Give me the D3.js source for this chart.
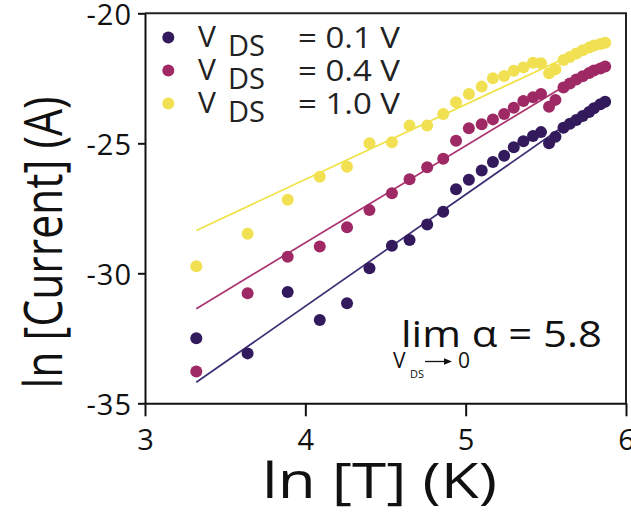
<!DOCTYPE html>
<html lang="en">
<head>
<meta charset="UTF-8" />
<title>ln Current vs ln T</title>
<style>
  html, body { margin: 0; padding: 0; background: #fff; }
  svg { display: block; font-family: "Open Sans", sans-serif; }
</style>
<script src="https://cdn.jsdelivr.net/npm/d3@7"></script>
</head>
<body>
<svg id="chart" width="631" height="513"></svg>
<script>
// ln T (K) for every measured temperature
const lnT = [3.32, 3.64, 3.89, 4.09, 4.26, 4.40, 4.54, 4.65, 4.76, 4.86,
             4.94, 5.02, 5.10, 5.17, 5.24, 5.30, 5.36, 5.42, 5.47, 5.52,
             5.56, 5.61, 5.65, 5.69, 5.73, 5.77, 5.80, 5.84, 5.87];

// ln I (A) per drain-source bias
const current01 = [-32.5, -33.08, -30.72, -31.8, -31.15, -29.81, -28.94, -28.72, -28.12, -27.63,
                   -26.77, -26.4, -26.05, -25.72, -25.48, -25.15, -24.92, -24.72, -24.57, -25.0,
                   -24.75, -24.4, -24.25, -24.1, -23.95, -23.8, -23.65, -23.5, -23.4];
const current04 = [-33.78, -30.77, -29.36, -28.97, -28.23, -27.57, -26.92, -26.38, -25.92, -25.59,
                   -24.9, -24.42, -24.27, -24.08, -23.87, -23.63, -23.37, -23.23, -23.1, -23.59,
                   -23.33, -22.85, -22.7, -22.55, -22.42, -22.3, -22.2, -22.12, -22.05];
const current10 = [-29.73, -28.48, -27.17, -26.29, -25.9, -25.0, -24.96, -24.32, -24.32, -23.87,
                   -23.42, -23.1, -22.82, -22.5, -22.41, -22.21, -22.08, -21.9, -21.92, -22.31,
                   -22.15, -21.8, -21.68, -21.55, -21.42, -21.32, -21.24, -21.18, -21.13];

// power-law fit lines, endpoints in (ln T, ln I)
const fitX = [3.32, 5.87];
const fit01 = [-34.19, -23.23];
const fit04 = [-31.36, -21.85];
const fit10 = [-28.35, -21.0];

const biasLabels = ["0.1 V", "0.4 V", "1.0 V"];
const xTicks = [3, 4, 5, 6];
const yTicks = [-35, -30, -25, -20];

const series = [
  {label: biasLabels[0], values: current01, fit: fit01, dot: "#321a5c", line: "#3d2d74"},
  {label: biasLabels[1], values: current04, fit: fit04, dot: "#9e2964", line: "#ab3470"},
  {label: biasLabels[2], values: current10, fit: fit10, dot: "#f1e152", line: "#f0e246"}
];

const svg = d3.select("#chart");
const x = d3.scaleLinear().domain([3, 6]).range([145, 626]);
const y = d3.scaleLinear().domain([-35, -20]).range([403.3, 13.3]);

// frame top / right
svg.append("path")
  .attr("d", `M${x(3)},${y(-20)}H${x(6)}V${y(-35)}`)
  .attr("fill", "none").attr("stroke", "#222").attr("stroke-width", 2);

const xAxis = svg.append("g")
  .attr("transform", `translate(0,${y(-35)})`)
  .call(d3.axisBottom(x).tickValues(xTicks).tickFormat(d3.format("d"))
    .tickSize(13).tickSizeOuter(0).tickPadding(13));
const yAxis = svg.append("g")
  .attr("transform", `translate(${x(3)},0)`)
  .call(d3.axisLeft(y).tickValues(yTicks).tickFormat(d => d3.format("d")(d).replace("−", "-"))
    .tickSize(7).tickSizeOuter(0).tickPadding(6));

[xAxis, yAxis].forEach(g => {
  g.select(".domain").attr("stroke", "#111").attr("stroke-width", 2);
  g.selectAll(".tick line").attr("stroke", "#111").attr("stroke-width", 2);
  g.selectAll(".tick text")
    .attr("font-family", "Open Sans")
    .attr("font-size", 29)
    .attr("fill", "#111");
});
yAxis.selectAll(".tick text").attr("dy", "0.4em").attr("letter-spacing", 1);

// fit lines
const line = d3.line().x(d => x(d[0])).y(d => y(d[1]));
series.forEach(s => {
  svg.append("path")
    .datum(fitX.map((v, i) => [v, s.fit[i]]))
    .attr("d", line)
    .attr("fill", "none")
    .attr("stroke", s.line)
    .attr("stroke-width", 1.7);
});

// data points
series.forEach(s => {
  svg.append("g").selectAll("circle")
    .data(s.values.map((v, i) => [lnT[i], v]))
    .enter().append("circle")
    .attr("cx", d => x(d[0]))
    .attr("cy", d => y(d[1]))
    .attr("r", 6)
    .attr("fill", s.dot);
});

// legend
const legend = svg.append("g").attr("fill", "#222");
series.forEach((s, i) => {
  const dy = i * 33;
  legend.append("circle").attr("cx", 168.3).attr("cy", 37.5 + dy).attr("r", 6).attr("fill", s.dot);
  legend.append("text").attr("x", 198).attr("y", 46.7 + dy).attr("font-size", 30).text("V");
  legend.append("text").attr("x", 228).attr("y", 55.7 + dy).attr("font-size", 29).text("DS");
  legend.append("text").attr("x", 298).attr("y", 48.3 + dy).attr("font-size", 30)
    .attr("textLength", 102).attr("lengthAdjust", "spacingAndGlyphs")
    .text("= " + s.label);
});

// annotation
const note = svg.append("g").attr("fill", "#111");
note.append("text").attr("x", 401).attr("y", 346.7).attr("font-size", 37)
  .attr("textLength", 201).attr("lengthAdjust", "spacingAndGlyphs")
  .text("lim α = 5.8");
note.append("text").attr("x", 393).attr("y", 368.3).attr("font-size", 21).text("V");
note.append("text").attr("x", 410).attr("y", 378.3).attr("font-size", 11).text("DS");
note.append("path").attr("d", "M425,361.5H446").attr("stroke", "#111").attr("stroke-width", 1.3);
note.append("path").attr("d", "M452,361.5L444,358.2L444,364.8Z");
note.append("text").attr("x", 458).attr("y", 368.3).attr("font-size", 21).text("0");

// axis titles
svg.append("text")
  .attr("x", 262).attr("y", 497.5)
  .attr("font-size", 49).attr("fill", "#111")
  .attr("textLength", 235).attr("lengthAdjust", "spacingAndGlyphs")
  .text("ln [T] (K)");
svg.append("text")
  .attr("transform", "translate(61.7,388.5) rotate(-90)")
  .attr("font-size", 53).attr("fill", "#111")
  .attr("textLength", 292).attr("lengthAdjust", "spacingAndGlyphs")
  .text("ln [Current] (A)");
</script>
</body>
</html>
